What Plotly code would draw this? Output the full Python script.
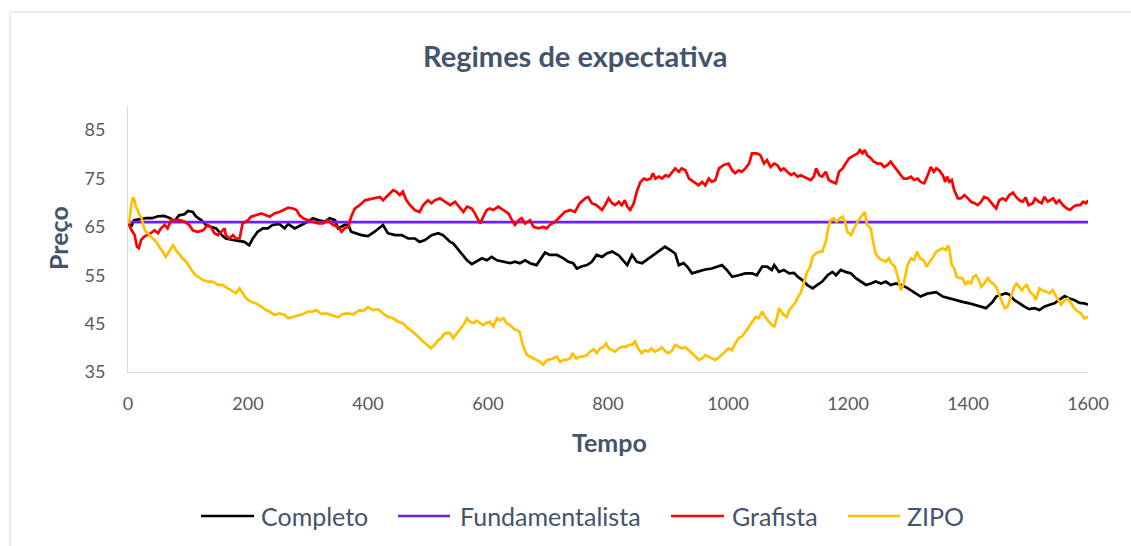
import plotly.graph_objects as go

# ---- series: (tempo, preço) pairs ----
completo = [
    (0, 66.0), (5, 65.0), (10, 66.4), (20, 66.6), (30, 66.8), (40, 66.8), (50, 67.2), (60, 67.3),
    (70, 66.8), (77, 66.1), (85, 67.4), (94, 67.6), (100, 68.3), (108, 68.1), (113, 67.2), (122, 66.4),
    (130, 65.4), (138, 65.0), (147, 64.7), (158, 63.1), (163, 62.6), (175, 62.3), (186, 62.1), (194, 61.9),
    (202, 61.2), (208, 62.6), (216, 64.0), (225, 64.7), (233, 64.7), (241, 65.4), (252, 65.6), (261, 64.7),
    (267, 65.6), (278, 64.7), (289, 65.4), (300, 66.1), (308, 66.8), (317, 66.4), (328, 66.1), (336, 66.8),
    (345, 66.4), (350, 64.7), (361, 65.4), (367, 65.4), (372, 64.0), (378, 63.7), (389, 63.3), (400, 63.1),
    (411, 64.0), (425, 65.4), (433, 63.7), (445, 63.3), (456, 63.3), (467, 62.6), (478, 62.6), (486, 61.9),
    (495, 62.3), (506, 63.3), (517, 63.7), (525, 63.3), (537, 61.9), (542, 61.6), (553, 59.9), (565, 58.1),
    (573, 57.3), (581, 57.8), (590, 58.5), (598, 58.1), (606, 58.8), (615, 58.1), (626, 57.8), (637, 57.5),
    (645, 57.8), (653, 57.5), (662, 58.1), (670, 57.5), (681, 57.1), (690, 58.8), (695, 59.7), (703, 59.2),
    (715, 59.2), (726, 58.5), (734, 57.8), (742, 57.5), (748, 56.4), (756, 56.8), (765, 57.1), (773, 57.8),
    (781, 59.2), (790, 58.8), (798, 59.5), (807, 59.9), (818, 59.1), (832, 57.1), (840, 59.2), (848, 57.8),
    (857, 57.5), (868, 58.5), (879, 59.5), (887, 60.2), (895, 60.9), (904, 60.2), (912, 59.5), (918, 57.1),
    (926, 57.5), (932, 56.8), (940, 55.4), (951, 55.8), (962, 56.2), (973, 56.4), (985, 56.8), (990, 57.1),
    (998, 56.1), (1007, 54.7), (1018, 55.0), (1029, 55.4), (1040, 55.4), (1048, 55.0), (1057, 56.8),
    (1065, 56.8), (1073, 56.1), (1077, 57.1), (1085, 55.7), (1093, 56.1), (1102, 55.4), (1110, 55.5),
    (1116, 54.7), (1124, 54.0), (1132, 53.0), (1141, 52.3), (1149, 53.0), (1157, 53.7), (1166, 55.0),
    (1174, 55.7), (1180, 55.0), (1188, 56.1), (1196, 55.7), (1205, 55.4), (1213, 54.4), (1221, 53.7),
    (1230, 53.0), (1238, 53.3), (1246, 53.7), (1255, 53.3), (1263, 53.7), (1271, 53.0), (1280, 53.3),
    (1288, 53.0), (1296, 52.6), (1305, 51.9), (1313, 51.3), (1321, 50.6), (1332, 51.2), (1347, 51.5),
    (1358, 50.6), (1369, 50.2), (1380, 49.9), (1391, 49.5), (1402, 49.2), (1411, 48.9), (1419, 48.5),
    (1430, 48.2), (1436, 48.9), (1441, 49.5), (1447, 50.6), (1455, 51.0), (1463, 51.3), (1469, 51.0),
    (1477, 49.9), (1486, 49.2), (1494, 48.5), (1502, 48.0), (1511, 48.2), (1519, 47.8), (1527, 48.5),
    (1536, 48.9), (1544, 49.2), (1552, 49.9), (1561, 50.7), (1569, 50.2), (1577, 49.9), (1586, 49.3),
    (1594, 49.2), (1600, 48.9),
]

fundamentalista = [(0, 66.0), (1600, 66.0)]

grafista = [
    (0, 66.0), (5, 64.5), (11, 63.3), (15, 60.9), (18, 60.6), (22, 62.3), (27, 63.0), (33, 63.3),
    (38, 63.7), (44, 64.3), (50, 63.7), (55, 64.7), (61, 65.4), (66, 64.7), (72, 66.4), (77, 66.4),
    (86, 66.4), (94, 66.1), (102, 65.4), (108, 64.3), (116, 64.0), (125, 64.3), (133, 65.4), (138, 65.0),
    (144, 63.7), (150, 63.3), (155, 64.0), (161, 64.7), (163, 63.3), (169, 62.6), (175, 63.3), (180, 62.6),
    (186, 62.6), (191, 65.7), (200, 66.4), (205, 67.1), (213, 67.4), (222, 67.8), (230, 67.4), (236, 67.1),
    (244, 67.8), (252, 68.1), (261, 68.6), (267, 69.0), (275, 68.8), (281, 68.5), (286, 67.4), (292, 66.8),
    (300, 66.4), (308, 66.1), (317, 65.7), (325, 65.7), (333, 66.4), (342, 65.4), (350, 65.0), (356, 64.0),
    (361, 64.7), (367, 65.0), (372, 67.1), (378, 68.8), (386, 69.5), (395, 70.5), (403, 70.7), (411, 70.9),
    (420, 71.2), (425, 70.5), (431, 71.2), (436, 71.9), (442, 72.6), (447, 72.3), (453, 71.6), (458, 72.3),
    (464, 70.5), (470, 69.5), (478, 68.5), (486, 68.1), (492, 69.5), (500, 70.5), (506, 69.9), (511, 70.5),
    (520, 70.9), (525, 70.5), (531, 69.9), (537, 69.5), (545, 70.2), (551, 69.2), (559, 68.1), (565, 69.2),
    (573, 68.8), (578, 67.8), (587, 65.7), (592, 67.1), (598, 68.5), (603, 68.8), (609, 68.5), (617, 69.2),
    (626, 68.5), (634, 67.8), (640, 66.4), (645, 65.4), (651, 66.4), (656, 66.8), (662, 65.7), (670, 66.4),
    (676, 65.0), (684, 64.7), (692, 65.0), (698, 64.7), (703, 65.4), (712, 66.1), (720, 67.1), (728, 68.1),
    (737, 68.5), (745, 68.1), (753, 69.9), (762, 70.9), (767, 71.2), (773, 69.9), (781, 69.5), (790, 68.5),
    (795, 69.5), (801, 70.9), (807, 69.9), (812, 69.5), (818, 70.2), (823, 69.5), (828, 70.5), (832, 69.2),
    (837, 68.5), (843, 69.9), (848, 72.3), (854, 74.3), (860, 75.0), (865, 74.7), (871, 75.0), (875, 76.1),
    (879, 75.0), (885, 75.4), (890, 75.0), (896, 75.7), (901, 75.4), (907, 76.4), (912, 77.1), (918, 76.4),
    (923, 77.1), (929, 76.7), (935, 75.0), (943, 74.3), (951, 73.6), (957, 74.3), (962, 73.6), (968, 75.0),
    (973, 74.3), (979, 74.7), (985, 77.1), (993, 77.8), (1001, 78.1), (1007, 76.7), (1012, 76.1),
    (1018, 76.7), (1023, 76.4), (1029, 77.1), (1035, 78.1), (1040, 80.2), (1048, 80.2), (1054, 79.8),
    (1060, 78.1), (1065, 78.8), (1071, 77.4), (1077, 78.1), (1082, 77.8), (1088, 76.7), (1093, 77.1),
    (1099, 76.4), (1105, 75.7), (1110, 76.1), (1116, 75.4), (1121, 75.7), (1127, 75.4), (1132, 75.0),
    (1138, 74.7), (1143, 75.4), (1147, 77.1), (1152, 75.7), (1157, 75.4), (1163, 76.4), (1168, 74.7),
    (1174, 74.3), (1180, 74.0), (1185, 76.4), (1191, 77.1), (1196, 78.1), (1202, 79.2), (1210, 79.8),
    (1216, 80.2), (1220, 80.9), (1224, 80.2), (1228, 80.9), (1232, 79.8), (1238, 79.2), (1243, 78.5),
    (1249, 78.1), (1255, 78.1), (1260, 77.4), (1266, 77.8), (1271, 78.5), (1277, 77.4), (1282, 76.7),
    (1288, 75.7), (1293, 75.0), (1299, 75.0), (1305, 75.4), (1310, 74.7), (1316, 75.0), (1321, 74.3),
    (1327, 74.0), (1332, 75.4), (1338, 77.4), (1343, 76.4), (1347, 77.1), (1352, 76.7), (1358, 75.7),
    (1362, 74.3), (1365, 75.4), (1369, 74.3), (1373, 74.7), (1377, 72.6), (1383, 70.9), (1388, 70.9),
    (1394, 71.6), (1400, 70.9), (1405, 70.2), (1411, 69.9), (1416, 69.5), (1422, 70.2), (1427, 71.2),
    (1433, 70.9), (1437, 70.2), (1442, 69.5), (1447, 68.8), (1452, 70.5), (1458, 70.9), (1463, 70.5),
    (1469, 71.6), (1475, 72.1), (1480, 71.2), (1486, 70.5), (1491, 70.2), (1496, 71.1), (1501, 69.5),
    (1508, 69.9), (1512, 70.9), (1518, 70.2), (1523, 69.9), (1527, 71.2), (1533, 70.2), (1538, 70.5),
    (1542, 70.9), (1547, 69.9), (1552, 70.5), (1558, 69.5), (1565, 68.8), (1570, 68.5), (1576, 69.2),
    (1581, 69.5), (1587, 69.5), (1592, 70.2), (1597, 69.9), (1600, 70.5),
]

zipo = [
    (0, 66.0), (2, 66.0), (5, 69.2), (8, 71.1), (11, 70.5), (13, 69.2), (16, 68.5), (19, 67.4),
    (22, 67.1), (25, 65.4), (27, 64.7), (30, 64.0), (36, 63.3), (41, 62.6), (47, 61.9), (52, 60.9),
    (58, 59.9), (63, 58.8), (69, 59.9), (75, 61.2), (80, 60.2), (86, 59.2), (91, 58.5), (97, 57.8),
    (102, 56.8), (108, 55.7), (113, 55.0), (119, 54.4), (125, 54.0), (133, 53.7), (141, 53.7), (150, 53.0),
    (158, 53.0), (166, 52.3), (175, 51.6), (180, 51.3), (186, 52.3), (191, 51.3), (197, 50.2), (205, 49.5),
    (213, 49.2), (222, 48.5), (230, 47.8), (236, 47.5), (244, 46.8), (252, 47.1), (261, 46.8), (267, 46.1),
    (275, 46.4), (283, 46.8), (292, 47.0), (300, 47.5), (308, 47.5), (314, 47.8), (322, 47.0), (331, 47.1),
    (339, 46.8), (350, 46.3), (358, 47.0), (367, 47.1), (375, 46.9), (381, 47.5), (386, 47.8), (392, 47.6),
    (400, 48.4), (408, 47.8), (417, 48.0), (425, 47.1), (433, 46.4), (442, 46.1), (450, 45.4), (458, 45.1),
    (467, 44.0), (475, 43.3), (483, 42.3), (492, 41.3), (499, 40.6), (505, 39.9), (511, 40.6), (517, 41.6),
    (522, 42.0), (528, 43.0), (533, 43.1), (537, 43.0), (542, 42.0), (548, 43.0), (553, 43.7), (559, 44.7),
    (565, 46.1), (570, 45.4), (576, 45.1), (581, 45.6), (587, 45.1), (592, 44.7), (598, 45.2), (603, 45.4),
    (609, 44.4), (615, 46.1), (620, 45.7), (626, 46.1), (631, 45.1), (637, 44.7), (642, 44.0), (648, 43.7),
    (653, 43.3), (656, 41.6), (659, 40.2), (665, 38.5), (670, 38.2), (676, 37.8), (681, 37.5), (687, 37.1),
    (692, 36.5), (698, 37.5), (703, 37.6), (709, 37.8), (715, 38.2), (720, 37.1), (726, 37.5), (731, 37.5),
    (737, 37.8), (741, 38.9), (747, 37.8), (753, 38.2), (759, 38.2), (765, 38.5), (770, 39.2), (776, 39.7),
    (781, 38.9), (787, 39.9), (792, 40.2), (797, 40.9), (801, 39.9), (807, 39.5), (812, 39.2), (818, 39.9),
    (823, 40.2), (829, 40.2), (835, 40.6), (840, 40.6), (845, 41.3), (850, 39.9), (856, 38.9), (861, 39.5),
    (867, 39.2), (872, 39.9), (878, 39.2), (883, 39.5), (890, 40.1), (896, 39.2), (901, 38.9), (907, 39.5),
    (912, 40.6), (918, 40.2), (923, 39.9), (929, 40.1), (935, 39.5), (940, 38.9), (946, 38.2), (951, 37.5),
    (957, 37.8), (962, 38.5), (968, 38.2), (973, 37.8), (979, 37.5), (983, 37.8), (989, 38.5), (996, 39.2),
    (1001, 39.9), (1007, 39.5), (1012, 40.9), (1018, 42.0), (1023, 42.3), (1029, 43.3), (1035, 44.4),
    (1040, 45.1), (1046, 46.4), (1051, 46.1), (1057, 47.5), (1062, 46.4), (1068, 45.4), (1073, 44.7),
    (1077, 44.4), (1082, 46.4), (1085, 48.2), (1089, 47.5), (1093, 46.8), (1098, 46.4), (1102, 47.8),
    (1107, 48.5), (1113, 49.5), (1117, 50.6), (1121, 51.3), (1126, 53.3), (1130, 55.0), (1132, 55.7),
    (1137, 56.8), (1141, 58.8), (1146, 59.5), (1152, 59.9), (1157, 59.9), (1163, 61.9), (1167, 64.7),
    (1171, 66.4), (1176, 66.8), (1181, 66.1), (1187, 66.8), (1191, 67.1), (1195, 66.1), (1199, 64.0),
    (1205, 63.3), (1210, 64.7), (1216, 66.1), (1220, 66.8), (1224, 67.4), (1228, 68.1), (1232, 65.4),
    (1238, 64.7), (1242, 61.9), (1246, 59.5), (1252, 58.5), (1257, 58.1), (1263, 57.8), (1268, 58.5),
    (1272, 57.5), (1278, 56.8), (1283, 54.7), (1288, 51.9), (1293, 53.3), (1299, 57.1), (1305, 58.5),
    (1310, 58.1), (1315, 59.9), (1320, 58.5), (1326, 58.1), (1331, 56.8), (1337, 57.8), (1342, 58.8),
    (1347, 59.9), (1352, 60.2), (1358, 60.6), (1363, 60.2), (1367, 61.2), (1370, 59.5), (1373, 57.1),
    (1377, 56.4), (1381, 54.7), (1386, 54.4), (1391, 54.4), (1396, 53.0), (1400, 53.7), (1405, 53.3),
    (1409, 54.7), (1413, 55.0), (1418, 54.0), (1422, 52.6), (1427, 53.3), (1433, 54.4), (1437, 53.7),
    (1442, 53.3), (1447, 52.6), (1451, 51.3), (1455, 49.9), (1461, 48.2), (1466, 48.5), (1472, 50.6),
    (1477, 52.6), (1481, 53.3), (1486, 52.6), (1490, 51.9), (1494, 52.6), (1498, 53.0), (1503, 51.6),
    (1509, 50.9), (1513, 49.9), (1519, 52.3), (1524, 51.9), (1530, 51.6), (1536, 51.3), (1541, 51.9),
    (1546, 50.9), (1550, 49.9), (1555, 48.9), (1561, 49.8), (1566, 50.2), (1572, 49.2), (1577, 48.2),
    (1583, 47.5), (1588, 47.1), (1594, 46.1), (1598, 46.3), (1600, 46.4),
]

series_names = ["Completo", "Fundamentalista", "Grafista", "ZIPO"]
series_data = [completo, fundamentalista, grafista, zipo]
series_colors = ["#000000", "#6F1FF0", "#FF0000", "#FFC000"]

x_ticks = [0, 200, 400, 600, 800, 1000, 1200, 1400, 1600]
y_ticks = [35, 45, 55, 65, 75, 85]

FONT = "Lato"
TEXT = "#44546A"
TICK = "#595959"

W, H = 1131, 546
L, R, T, B = 128, 43, 106, 174

fig = go.Figure()
for name, data, color in zip(series_names, series_data, series_colors):
    t, v = zip(*data)
    fig.add_trace(go.Scatter(x=list(t), y=list(v), mode="lines", name=name,
                             line=dict(color=color, width=2.7), showlegend=False,
                             hoverinfo="x+y+name"))


def px_x(x):
    return (x - L) / (W - L - R)


def px_y(y):
    return (H - B - y) / (H - T - B)


shapes = [
    # chart border
    dict(type="rect", xref="paper", yref="paper",
         x0=px_x(10), x1=px_x(1140), y0=px_y(560), y1=px_y(12),
         line=dict(color="#D9D9D9", width=1), fillcolor="rgba(0,0,0,0)", layer="below"),
]
annotations = [
    dict(text="<b>Regimes de expectativa</b>", x=px_x(575), y=px_y(55), xref="paper", yref="paper",
         xanchor="center", yanchor="middle", showarrow=False, font=dict(family=FONT, size=29, color=TEXT)),
    dict(text="<b>Preço</b>", x=px_x(58), y=px_y(238), xref="paper", yref="paper", textangle=-90,
         xanchor="center", yanchor="middle", showarrow=False, font=dict(family=FONT, size=25, color=TEXT)),
    dict(text="<b>Tempo</b>", x=px_x(609), y=px_y(442), xref="paper", yref="paper",
         xanchor="center", yanchor="middle", showarrow=False, font=dict(family=FONT, size=25, color=TEXT)),
]

# legend: line sample + label for each series
legend_line_x = [(201, 254), (398, 450), (671, 724), (848, 900)]
legend_text_x = [259, 458, 730, 905]
LEG_Y = 516
for name, color, (a, b), tx in zip(series_names, series_colors, legend_line_x, legend_text_x):
    shapes.append(dict(type="line", xref="paper", yref="paper",
                       x0=px_x(a), x1=px_x(b), y0=px_y(LEG_Y), y1=px_y(LEG_Y),
                       line=dict(color=color, width=2.7)))
    annotations.append(dict(text=name, x=px_x(tx), y=px_y(LEG_Y), xref="paper", yref="paper",
                            xanchor="left", yanchor="middle", showarrow=False,
                            font=dict(family=FONT, size=25, color=TEXT)))

fig.update_layout(
    width=W, height=H, autosize=False,
    margin=dict(l=L, r=R, t=T, b=B),
    paper_bgcolor="white", plot_bgcolor="white",
    shapes=shapes, annotations=annotations,
    font=dict(family=FONT, color=TICK),
    xaxis=dict(range=[0, 1600], tickvals=x_ticks, showgrid=False, zeroline=False,
               showline=True, linecolor="#D9D9D9", linewidth=1, ticks="",
               tickfont=dict(family=FONT, size=18, color=TICK), ticklabelstandoff=15),
    yaxis=dict(range=[35, 90], tickvals=y_ticks, showgrid=False, zeroline=False,
               showline=True, linecolor="#D9D9D9", linewidth=1, ticks="",
               tickfont=dict(family=FONT, size=18, color=TICK), ticklabelstandoff=18),
)

fig.write_html("out.html")
